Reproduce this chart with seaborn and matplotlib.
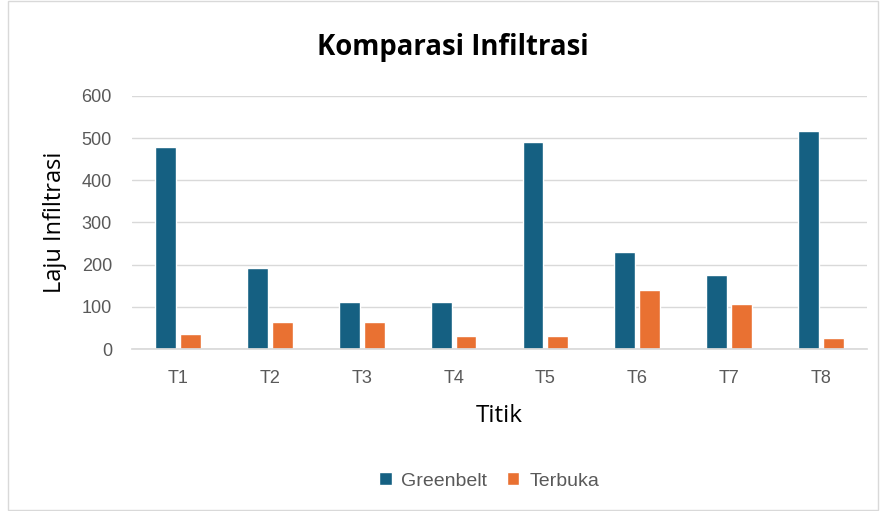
import matplotlib
matplotlib.use("Agg")
import matplotlib.pyplot as plt
import seaborn as sns
import pandas as pd

categories = ["T1", "T2", "T3", "T4", "T5", "T6", "T7", "T8"]
greenbelt = [480, 192, 112, 112, 492, 229, 175, 517]
terbuka = [36, 65, 65, 31, 31, 141, 107, 27]
series_names = ["Greenbelt", "Terbuka"]
yticks = [0, 100, 200, 300, 400, 500, 600]

df = pd.DataFrame({
    "Titik": categories * 2,
    "Laju": greenbelt + terbuka,
    "Seri": [series_names[0]] * len(categories) + [series_names[1]] * len(categories),
})

sns.set_theme(style="white")
plt.rcParams["font.family"] = ["Liberation Sans", "DejaVu Sans"]
text_color = "#595959"
label_font = ["Open Sans", "DejaVu Sans"]

fig = plt.figure(figsize=(8.8, 5.11), dpi=100)
ax = fig.add_axes([132 / 880, 1 - 349 / 511, 735 / 880, 253 / 511])

sns.barplot(data=df, x="Titik", y="Laju", hue="Seri", order=categories,
            hue_order=series_names, palette=["#156082", "#E97132"],
            width=0.54, gap=0.16, ax=ax, legend=True, saturation=1)

ax.set_ylim(0, 600)
ax.set_yticks(yticks)
ax.set_xlim(-0.5, len(categories) - 0.5)
ax.yaxis.grid(True, color="#D9D9D9", linewidth=1)
ax.set_axisbelow(True)
for s in ["top", "right", "left"]:
    ax.spines[s].set_visible(False)
ax.spines["bottom"].set_color("#D9D9D9")
ax.tick_params(axis="both", length=0, labelsize=13, colors=text_color)
ax.tick_params(axis="y", pad=14.4)
ax.tick_params(axis="x", pad=15)

ax.set_xlabel("Titik", fontsize=17.5, color="black", labelpad=12, family=label_font)
ax.set_ylabel("Laju Infiltrasi", fontsize=17, color="black", labelpad=10.5, family=label_font)

fig.text(0.515, 1 - 48 / 511, "Komparasi Infiltrasi", ha="center", va="center",
         fontsize=19.8, fontweight="bold", color="black", family=label_font)

handles, labels = ax.get_legend_handles_labels()
ax.legend_.remove()
fig.legend(handles, labels, loc="center", bbox_to_anchor=(489 / 880, 1 - 481 / 511),
           ncol=2, frameon=False, fontsize=14, labelcolor=text_color,
           handlelength=0.65, handleheight=0.65, columnspacing=1.0, handletextpad=0.5)

border = plt.Rectangle((8 / 880, 0.002), 1 - 10 / 880, 0.996, transform=fig.transFigure,
                       fill=False, edgecolor="#D9D9D9", linewidth=1)
fig.patches.append(border)

fig.savefig("out.png", dpi=100)
